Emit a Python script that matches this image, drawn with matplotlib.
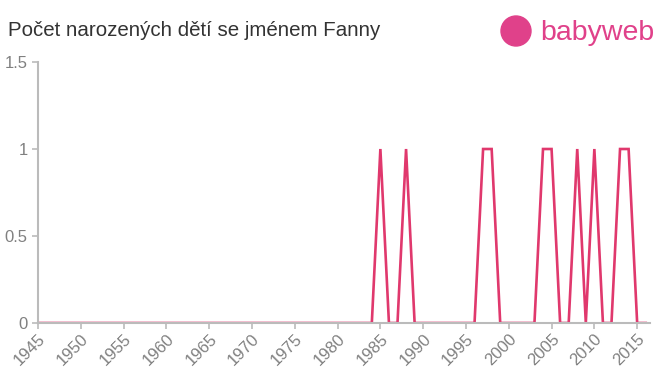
import matplotlib
matplotlib.use("Agg")
import matplotlib.pyplot as plt
from matplotlib.patches import Ellipse

# data
years = list(range(1945, 2017))
births_nonzero = {1985: 1, 1988: 1, 1997: 1, 1998: 1, 2004: 1, 2005: 1,
                  2008: 1, 2010: 1, 2013: 1, 2014: 1}
births = [births_nonzero.get(y, 0) for y in years]

x_ticks = list(range(1945, 2016, 5))
y_ticks = [0, 0.5, 1, 1.5]
y_tick_labels = ["0", "0.5", "1", "1.5"]

title = "Počet narozených dětí se jménem Fanny"

plt.rcParams['font.family'] = ['Liberation Sans', 'DejaVu Sans']

line_color = "#e0386d"
axis_color = "#bbbbbb"
text_color = "#808080"

fig = plt.figure(figsize=(6.6, 3.75), dpi=100)
ax = fig.add_axes([38/660, 52/375, (650-38)/660, (323-62)/375])

ax.plot(years, births, color=line_color, lw=1.9, solid_joinstyle="miter")

ax.set_xlim(1945, 2016.5)
ax.set_ylim(0, 1.5)
ax.set_xticks(x_ticks)
ax.set_xticklabels([str(t) for t in x_ticks], rotation=45, ha="right",
                   rotation_mode="anchor")
ax.set_yticks(y_ticks)
ax.set_yticklabels(y_tick_labels)

for s in ["top", "right"]:
    ax.spines[s].set_visible(False)
for s in ["left", "bottom"]:
    ax.spines[s].set_color(axis_color)
    ax.spines[s].set_linewidth(1.5)
ax.tick_params(colors=axis_color, labelcolor=text_color, labelsize=12,
               length=4, width=1.2)
ax.tick_params(axis="x", pad=2)

fig.text(8/660, 1 - 31/375, title, fontsize=14.8, color="#333333",
         va="center", ha="left")

# logo
logo_color = "#e0418a"
fig.patches.append(Ellipse((516/660, 1 - 31/375), 30/660, 30/375,
                           transform=fig.transFigure, color=logo_color))
fig.text(540/660, 1 - 33/375, "babyweb", fontsize=20.5, color=logo_color,
         va="center", ha="left")

fig.savefig("out.png", dpi=100)
